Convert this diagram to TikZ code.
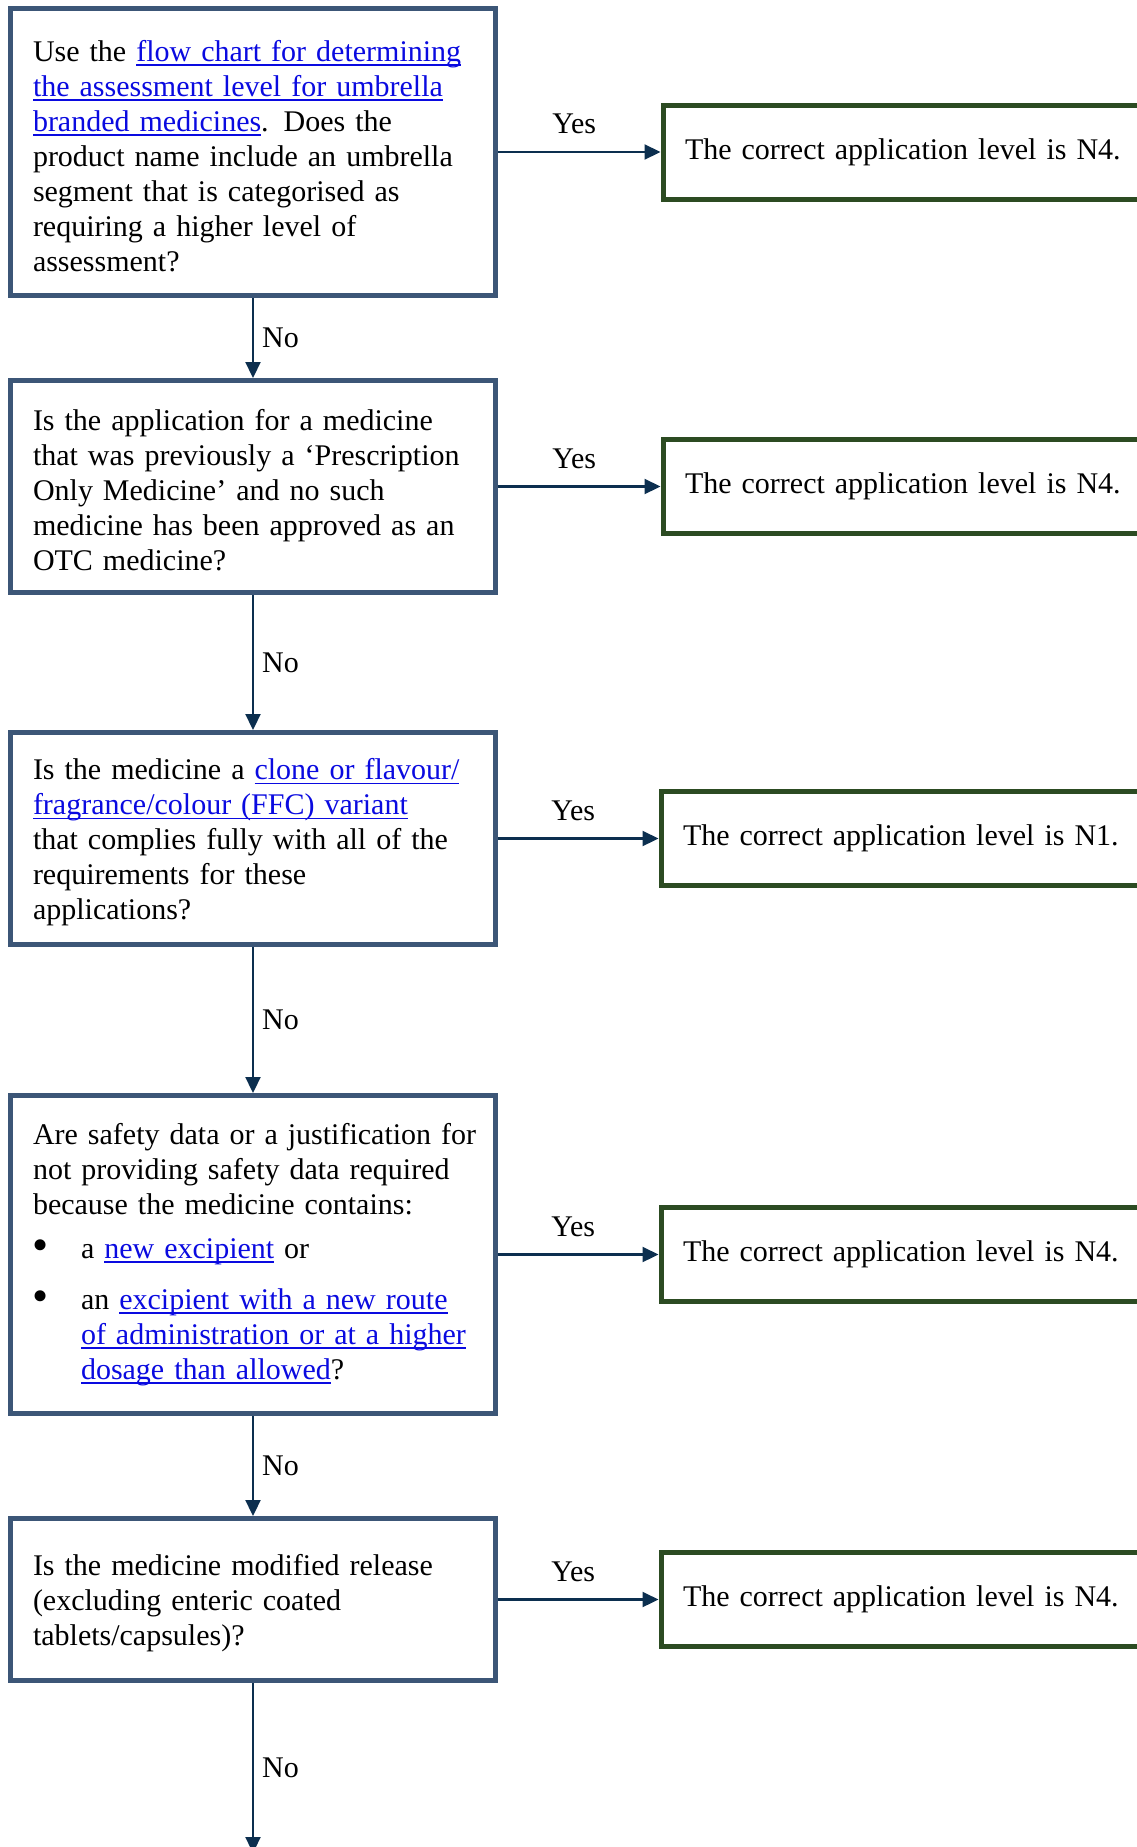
\documentclass[tikz,border=0pt]{standalone}
\usepackage{fontspec}
\setmainfont{Liberation Serif}
\usetikzlibrary{arrows.meta,positioning}

\definecolor{boxblue}{HTML}{3C5677}
\definecolor{ansgreen}{HTML}{2C4B22}
\definecolor{arrownavy}{HTML}{0C2F4F}
\definecolor{linkblue}{HTML}{0A0AE0}
\newsavebox{\lnkbox}
\newcommand{\lnk}[1]{\leavevmode{\color{linkblue}\sbox{\lnkbox}{#1}%
  \rlap{\rule[-4.5pt]{\wd\lnkbox}{1.8pt}}\usebox{\lnkbox}}}
\newcommand{\bul}{\leavevmode\makebox[48pt][l]{\hspace*{-1pt}\raisebox{-2pt}{\fontsize{46}{35}\selectfont\textbullet}}}
\newcommand{\topstrut}{\rule{0pt}{29pt}}

\begin{document}
\begin{tikzpicture}[x=1pt,y=-1pt,
  every node/.style={font=\fontsize{30}{35}\selectfont},
  qbox/.style={draw=boxblue,line width=5pt,minimum width=485pt,text width=440pt,
    align=left,inner xsep=20pt,inner ysep=0pt},
  ansbox/.style={draw=ansgreen,line width=5pt,minimum height=94pt,text width=480pt,
    align=left,inner xsep=22pt,inner ysep=0pt,anchor=west},
  flow/.style={draw=arrownavy,line width=2.2pt,-{Triangle[length=16pt,width=15pt]}},
  yeslbl/.style={above=17pt,xshift=-5pt,inner sep=0pt},
  nolbl/.style={right=8pt,inner sep=0pt}]
  \clip (0,0) rectangle (1137,1847);
  \fill[white] (0,0) rectangle (1137,1847);

  \node[qbox,minimum height=287pt] (q1) at (253,152) {\topstrut Use the \lnk{flow chart for determining}\\
    \lnk{the assessment level for umbrella}\\
    \lnk{branded medicines}. Does the\\
    product name include an umbrella\\
    segment that is categorised as\\
    requiring a higher level of\\
    assessment?};
  \node[qbox,minimum height=212pt] (q2) at (253,486.5) {\topstrut Is the application for a medicine\\
    that was previously a ‘Prescription\\
    Only Medicine’ and no such\\
    medicine has been approved as an\\
    OTC medicine?};
  \node[qbox,minimum height=212pt] (q3) at (253,838.5) {\topstrut Is the medicine a \lnk{clone or flavour/}\\
    \lnk{fragrance/colour (FFC) variant}\\
    that complies fully with all of the\\
    requirements for these\\
    applications?};
  \node[qbox,minimum height=318pt] (q4) at (253,1254.5) {\mbox{Are safety data or a justification for}\\
    not providing safety data required\\
    because the medicine contains:\\[9pt]
    \bul a \lnk{new excipient} or\\[16pt]
    \bul an \lnk{excipient with a new route}\\
    \hspace*{48pt}\lnk{of administration or at a higher}\\
    \hspace*{48pt}\lnk{dosage than allowed}?};
  \node[qbox,minimum height=162pt] (q5) at (253,1599.5) {\topstrut Is the medicine modified release\\
    (excluding enteric coated\\
    tablets/capsules)?};

  \node[ansbox] (a1) at (660.5,152) {The correct application level is N4.};
  \node[ansbox] (a2) at (660.5,486.5) {The correct application level is N4.};
  \node[ansbox] (a3) at (658.5,838.5) {The correct application level is N1.};
  \node[ansbox] (a4) at (658.5,1254.5) {The correct application level is N4.};
  \node[ansbox] (a5) at (658.5,1599.5) {The correct application level is N4.};
  \coordinate (out) at (253,1853);

  \draw[flow] (q1) -- (q2) node[midway,nolbl] {No};
  \draw[flow] (q2) -- (q3) node[midway,nolbl] {No};
  \draw[flow] (q3) -- (q4) node[midway,nolbl] {No};
  \draw[flow] (q4) -- (q5) node[midway,nolbl] {No};
  \draw[flow] (q5) -- (out) node[midway,nolbl] {No};

  \draw[flow] (q1) -- (a1) node[midway,yeslbl] {Yes};
  \draw[flow] (q2) -- (a2) node[midway,yeslbl] {Yes};
  \draw[flow] (q3) -- (a3) node[midway,yeslbl] {Yes};
  \draw[flow] (q4) -- (a4) node[midway,yeslbl] {Yes};
  \draw[flow] (q5) -- (a5) node[midway,yeslbl] {Yes};
\end{tikzpicture}
\end{document}
